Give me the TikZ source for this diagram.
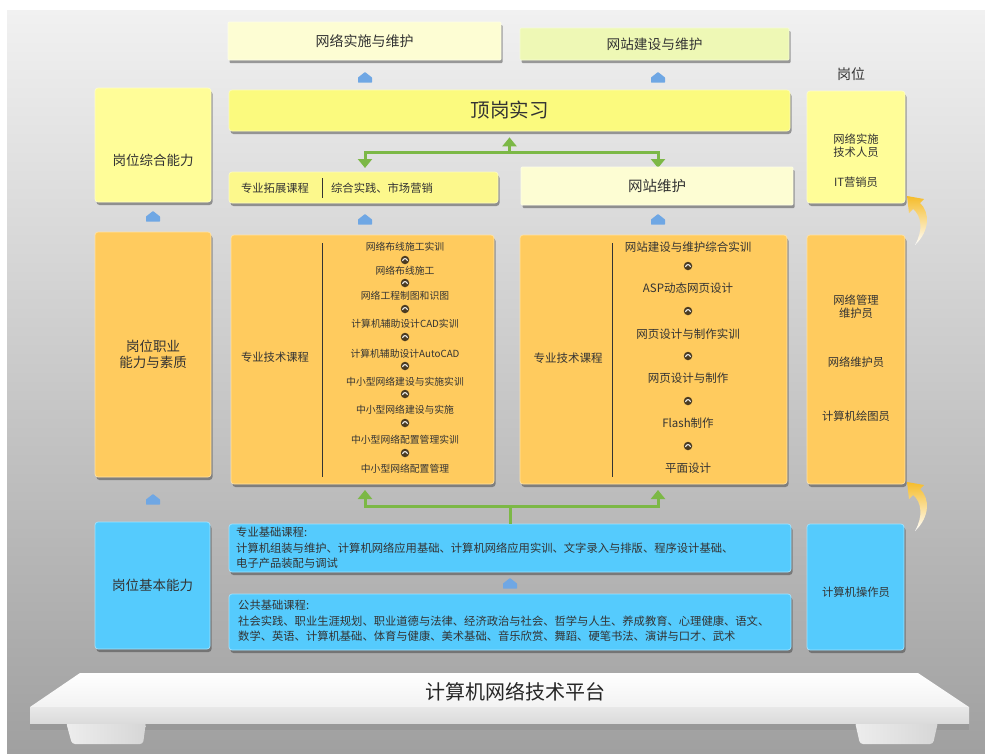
\documentclass[tikz,border=0pt]{standalone}
\usepackage{fontspec}
\setmainfont{Noto Sans CJK SC}
\usetikzlibrary{shadows,arrows.meta,calc}
\definecolor{bgTop}{HTML}{F1F1F1}
\definecolor{bgMid}{HTML}{D4D4D4}
\definecolor{bgBot}{HTML}{A0A0A0}
\definecolor{cYel}{HTML}{FFFD98}
\definecolor{cYel2}{HTML}{FBFA7E}
\definecolor{cYel3}{HTML}{FCF88C}
\definecolor{cCream}{HTML}{FDFDD3}
\definecolor{cLime}{HTML}{EEF8B5}
\definecolor{cOra}{HTML}{FFCB5E}
\definecolor{cBlue}{HTML}{55CBFD}
\definecolor{cGreen}{HTML}{7CB846}
\definecolor{cArr}{HTML}{6FA7E4}
\definecolor{cTxt}{HTML}{333333}
\definecolor{cGold}{HTML}{F5BC2A}
\definecolor{cSym}{HTML}{4A3B22}
\newcommand\fsz[2]{\fontsize{#1}{#2}\selectfont}
\tikzset{
  box/.style={rounded corners=3pt, draw=#1!55!white, line width=0.7pt, fill=#1,
    inner sep=0pt, text=cTxt,
    drop shadow={shadow xshift=1.5pt, shadow yshift=-3pt, opacity=0.45, fill=black!80}},
  wh/.style 2 args={minimum width=#1pt, minimum height=#2pt},
  txt/.style={inner sep=0pt, text=cTxt},
  itemL/.style={txt, font=\fsz{9.8}{11}},
  itemR/.style={txt, font=\fsz{11.5}{13}},
  sym/.style={circle, fill=cSym, inner sep=0pt, minimum size=8.5pt,
    path picture={\draw[white, line width=1pt]
      ($(path picture bounding box.center)+(-2.4,1)$) arc[start angle=180, end angle=360, radius=2.4];}},
  garr/.style={draw=cGreen, line width=3pt},
  gtip/.style={garr, -{Triangle[width=14pt,length=9pt]}},
  uparr/.pic={\fill[cArr, rounded corners=0.4pt] (-7,4.5) -- (-7,-0.5) -- (0,-6) -- (7,-0.5) -- (7,4.5) -- cycle;},
  curvarr/.pic={\shade[top color=cGold, bottom color=white]
     (0,0) -- (17,3) -- (13,7) .. controls (23,16) and (23,35) .. (8,49)
     .. controls (16,35) and (15,20) .. (6,13) -- (2,17) -- cycle;}
}
\begin{document}
\begin{tikzpicture}[x=1pt,y=-1pt]
\useasboundingbox (0,0) rectangle (985,753);
\fill[white] (0,0) rectangle (985,753);
\shade[top color=bgTop, middle color=bgMid, bottom color=bgBot] (7,10) rectangle (985,753);

% ---------- top row ----------
\node[box=cCream, rounded corners=1pt, wh={273}{38}, font=\fsz{14}{16}] (nwss) at (364.5,41) {网络实施与维护};
\node[box=cLime, rounded corners=1pt, wh={269}{32}, font=\fsz{13.7}{16}] (wzjs) at (654.5,44) {网站建设与维护};
\pic at (365,78) {uparr};
\pic at (658,78) {uparr};
\node[box=cYel2, wh={561}{41}, font=\fsz{19.5}{22}] (dgsx) at (509.5,110.5) {顶岗实习};

% green arrows (top)
\coordinate (gj) at (509.5,152);
\coordinate (gL) at (365,152);
\coordinate (gR) at (658,152);
\coordinate (gLt) at (365,168);
\coordinate (gRt) at (658,168);
\draw[gtip] (gj) -- ([yshift=-6pt]dgsx.south);
\draw[gtip] (gR) -- (gL) -- (gLt);
\draw[gtip] (gL) -- (gR) -- (gRt);

\node[box=cYel3, wh={269}{31}] (zytz) at (363.5,187.5) {};
\node[txt, font=\fsz{11.3}{13}] (zytz1) at (275,188) {专业拓展课程};
\node[txt, font=\fsz{11.3}{13}] (zytz2) at (382,188) {综合实践、市场营销};
\draw[cTxt, line width=0.8pt] (322,178) -- (322,198);
\node[box=cCream, rounded corners=1pt, wh={272}{38}, font=\fsz{14.5}{16}] (wzwh) at (657,186) {网站维护};
\pic at (365,220) {uparr};
\pic at (658,220) {uparr};

% ---------- left column ----------
\node[box=cYel, wh={116}{114}] (gwzh) at (153,145) {};
\node[txt, font=\fsz{13.5}{16}] (gwzht) at (153,160) {岗位综合能力};
\pic at (153,217) {uparr};
\node[box=cOra, wh={116}{245}, align=center, font=\fsz{13.5}{16}] (gwzy) at (153,354.5) {岗位职业\\能力与素质};
\pic at (153,500) {uparr};
\node[box=cBlue, wh={115}{127}, font=\fsz{13.5}{16}] (gwjb) at (152.5,585.5) {岗位基本能力};

% ---------- course boxes ----------
\node[box=cOra, wh={263}{249}] (kcL) at (362.5,359.5) {};
\node[txt, font=\fsz{11.3}{13}] (kcLt) at (275,357) {专业技术课程};
\draw[cTxt, line width=0.8pt] (322,243) -- (322,477);
\foreach \t/\y [count=\i] in {网络布线施工实训/247, 网络布线施工/271, 网络工程制图和识图/296,
  计算机辅助设计CAD实训/324, 计算机辅助设计AutoCAD/354, 中小型网络建设与实施实训/382,
  中小型网络建设与实施/410, 中小型网络配置管理实训/440, 中小型网络配置管理/469}
  \node[itemL] (L\i) at (405,\y) {\t};
\foreach \y [count=\i] in {260,283,309,337,366,394,423,453}
  \node[sym] (Ls\i) at (405,\y) {};

\node[box=cOra, wh={267}{249}] (kcR) at (653.5,359.5) {};
\node[txt, font=\fsz{11.5}{13}] (kcRt) at (568,358) {专业技术课程};
\draw[cTxt, line width=0.8pt] (612,243) -- (612,477);
\foreach \t/\y [count=\i] in {网站建设与维护综合实训/247, ASP动态网页设计/288, 网页设计与制作实训/334,
  网页设计与制作/378, Flash制作/423, 平面设计/468}
  \node[itemR] (R\i) at (688,\y) {\t};
\foreach \y [count=\i] in {266,311,356,401,446}
  \node[sym] (Rs\i) at (688,\y) {};

% green arrows (bottom)
\coordinate (hj) at (510,506);
\coordinate (hL) at (365,506);
\coordinate (hR) at (658,506);
\coordinate (hLt) at (365,490);
\coordinate (hRt) at (658,490);
\draw[gtip] (hR) -- (hL) -- (hLt);
\draw[gtip] (hL) -- (hR) -- (hRt);

% ---------- foundation boxes ----------
\node[box=cBlue, wh={562}{48}] (zyjc) at (510,548) {};
\draw[garr] (zyjc.north) -- (hj);
\node[txt, anchor=west, align=left, font=\fsz{11.3}{15.5}] (zyjct) at (236,548)
  {专业基础课程:\\计算机组装与维护、计算机网络应用基础、计算机网络应用实训、文字录入与排版、程序设计基础、\\电子产品装配与调试};
\pic at (510,584) {uparr};
\node[box=cBlue, wh={562}{56}] (ggjc) at (510,622) {};
\node[txt, anchor=west, align=left, font=\fsz{11.3}{15.5}] (ggjct) at (238,621)
  {公共基础课程:\\社会实践、职业生涯规划、职业道德与法律、经济政治与社会、哲学与人生、养成教育、心理健康、语文、\\数学、英语、计算机基础、体育与健康、美术基础、音乐欣赏、舞蹈、硬笔书法、演讲与口才、武术};

% ---------- right column ----------
\node[txt, font=\fsz{14}{16}] (gwlab) at (851,74) {岗位};
\node[box=cYel, wh={98}{112}] (gwA) at (856,147) {};
\node[txt, align=center, font=\fsz{11.3}{13.5}] (gwA1) at (856,145.5) {网络实施\\技术人员};
\node[txt, font=\fsz{11.3}{13}] (gwA2) at (856,182) {IT营销员};
\node[box=cOra, wh={98}{249}] (gwB) at (856,359.5) {};
\node[txt, align=center, font=\fsz{11.3}{13.5}] (gwB1) at (856,306.5) {网络管理\\维护员};
\node[txt, font=\fsz{11.3}{13}] (gwB2) at (856,362) {网络维护员};
\node[txt, font=\fsz{11.3}{13}] (gwB3) at (856,416) {计算机绘图员};
\node[box=cBlue, wh={97}{126}] (gwC) at (855.5,587) {};
\node[txt, font=\fsz{11.3}{13}] (gwCt) at (856,592) {计算机操作员};
\pic at (907,196) {curvarr};
\pic at (907,482) {curvarr};

% ---------- platform ----------
\fill[black, opacity=0.06] (30,723) rectangle (969,730);
\shade[left color=black!7, right color=black!16, rounded corners=3pt] (66,722) -- (146,722) -- (143,744) -- (72,744) -- cycle;
\shade[left color=black!7, right color=black!16, rounded corners=3pt] (855,722) -- (938,722) -- (933,744) -- (860,744) -- cycle;
\shade[top color=white, bottom color=black!5] (80,673) -- (918,673) -- (969,707) -- (30,707) -- cycle;
\shade[top color=black!9, bottom color=black!14] (30,707) rectangle (969,723);
\node[txt, text=black!85, font=\fsz{20}{22}] (plat) at (515,692) {计算机网络技术平台};
\end{tikzpicture}
\end{document}
